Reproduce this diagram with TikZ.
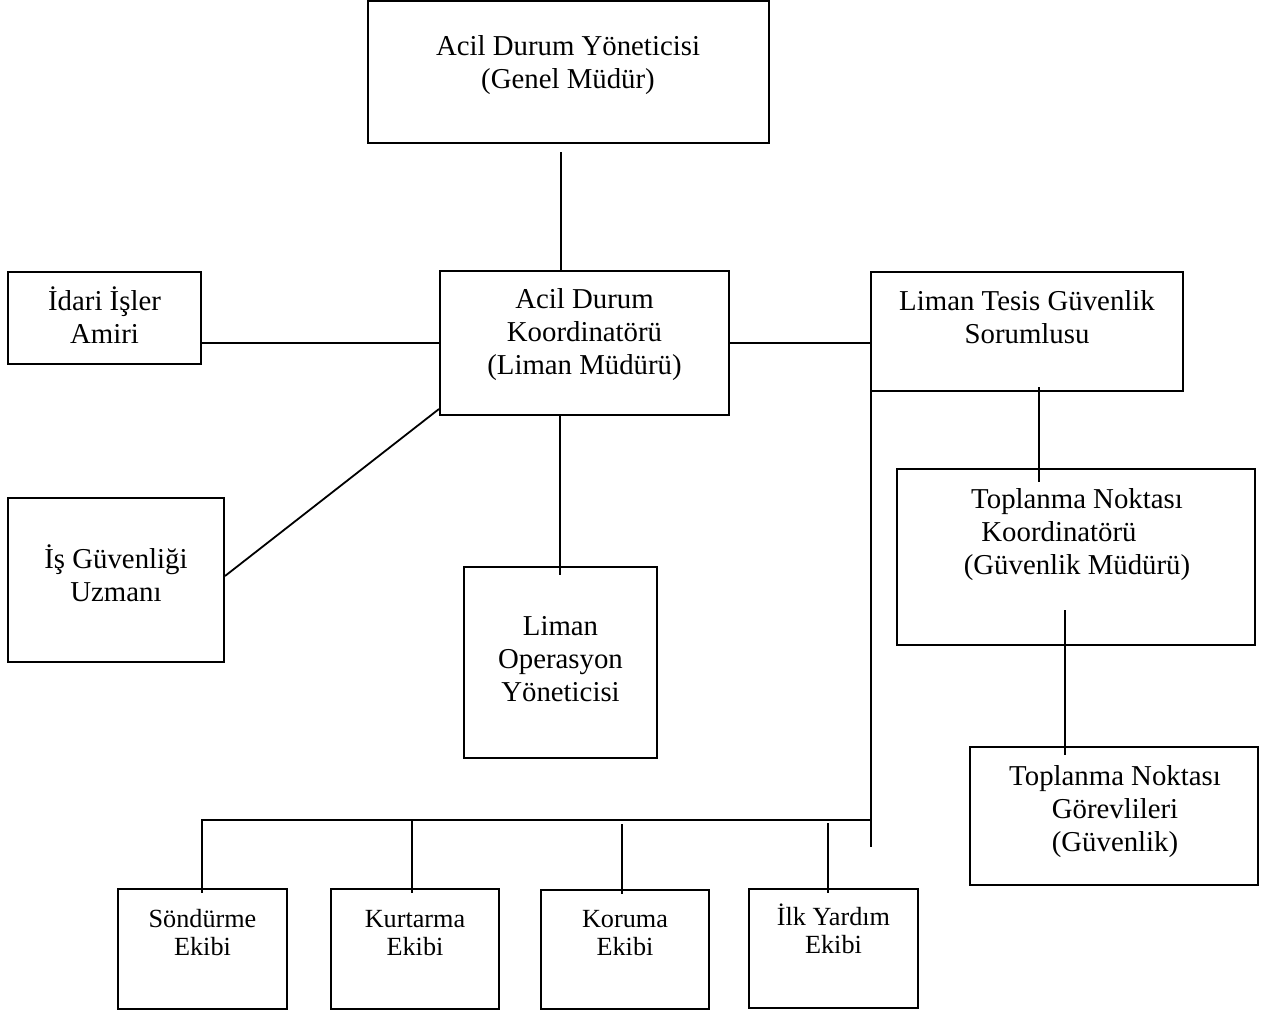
\documentclass[tikz,border=0pt]{standalone}
\usepackage{fontspec}
\setmainfont{Liberation Serif}
\begin{document}
\begin{tikzpicture}[x=0.5pt,y=-0.5pt,
  orgbox/.style={draw, line width=1pt, rectangle, inner sep=0pt},
  conn/.style={line width=0.9pt},
  lbl/.style={anchor=base, inner sep=0pt, font=\fontsize{14.4}{16.5}\selectfont},
  slbl/.style={anchor=base, inner sep=0pt, font=\fontsize{13.1}{14.2}\selectfont}]
\useasboundingbox (0,0) rectangle (1262,1012);
\newcommand\tb[1]{\begin{tabular}[t]{@{}c@{}}#1\end{tabular}}
% boxes
\node[orgbox, minimum width=200.5pt, minimum height=71pt] (top) at (568.5,72) {};
\node[orgbox, minimum width=144.5pt, minimum height=72pt] (coord) at (584.5,343) {};
\node[orgbox, minimum width=96.5pt, minimum height=46pt] (idari) at (104.5,318) {};
\node[orgbox, minimum width=108pt, minimum height=82pt] (isg) at (116,580) {};
\node[orgbox, minimum width=96.5pt, minimum height=95.5pt] (oper) at (560.5,662.5) {};
\node[orgbox, minimum width=156pt, minimum height=59.5pt] (tesis) at (1027,331.5) {};
\node[orgbox, minimum width=179pt, minimum height=88pt] (tkoord) at (1076,557) {};
\node[orgbox, minimum width=144pt, minimum height=69pt] (tgor) at (1114,816) {};
\node[orgbox, minimum width=84.5pt, minimum height=60pt] (sond) at (202.5,949) {};
\node[orgbox, minimum width=84pt, minimum height=60pt] (kurt) at (415,949) {};
\node[orgbox, minimum width=84pt, minimum height=59.5pt] (koru) at (625,949.5) {};
\node[orgbox, minimum width=84.5pt, minimum height=59.5pt] (ilk) at (833.5,948.5) {};
% texts
\node[lbl] (topT) at (568,55) {\tb{Acil Durum Yöneticisi\\(Genel Müdür)}};
\node[lbl] (coordT) at (584.5,308) {\tb{Acil Durum\\Koordinatörü\\(Liman Müdürü)}};
\node[lbl] (idariT) at (104.5,310) {\tb{İdari İşler\\Amiri}};
\node[lbl] (isgT) at (116,568) {\tb{İş Güvenliği\\Uzmanı}};
\node[lbl] (operT) at (560.5,635) {\tb{Liman\\Operasyon\\Yöneticisi}};
\node[lbl] (tesisT) at (1027,310) {\tb{Liman Tesis Güvenlik\\Sorumlusu}};
\node[lbl] (tkoordT) at (1077,508) {\tb{Toplanma Noktası\\Koordinatörü\kern18pt\relax\\(Güvenlik Müdürü)}};
\node[lbl] (tgorT) at (1115,785) {\tb{Toplanma Noktası\\Görevlileri\\(Güvenlik)}};
\node[slbl] (sondT) at (202.5,927) {\tb{Söndürme\\Ekibi}};
\node[slbl] (kurtT) at (415,927) {\tb{Kurtarma\\Ekibi}};
\node[slbl] (koruT) at (625,927) {\tb{Koruma\\Ekibi}};
\node[slbl] (ilkT) at (833.5,925) {\tb{İlk Yardım\\Ekibi}};
% connector end points
\coordinate (c1) at (561,152);
\coordinate (o1) at (560,416);
\coordinate (o1b) at (560,575);
\coordinate (busTop) at (871,367);
\coordinate (busBot) at (871,847);
\coordinate (busL) at (202,820);
\coordinate (d1) at (202,893);
\coordinate (d2t) at (412,820);
\coordinate (d2) at (412,893);
\coordinate (d3t) at (622,824);
\coordinate (d3) at (622,894);
\coordinate (d4t) at (828,823);
\coordinate (d4) at (828,893);
\coordinate (t1) at (1039,387);
\coordinate (t1b) at (1039,482);
\coordinate (t2) at (1065,610);
\coordinate (t2b) at (1065,755);
% connectors
\draw[conn] (c1) -- (c1 |- coord.north);
\draw[conn] (coord.west) -- (coord.west -| idari.east);
\draw[conn] (coord.east) -- (coord.east -| tesis.west);
\draw[conn] ([yshift=2pt]isg.east) -- ([yshift=3.5pt]coord.south west);
\draw[conn] (o1) -- (o1b);
\draw[conn] (busTop) -- (busBot);
\draw[conn] (busL -| busTop) -- (busL) -- (d1);
\draw[conn] (d2t) -- (d2);
\draw[conn] (d3t) -- (d3);
\draw[conn] (d4t) -- (d4);
\draw[conn] (t1) -- (t1b);
\draw[conn] (t2) -- (t2b);
\end{tikzpicture}
\end{document}
